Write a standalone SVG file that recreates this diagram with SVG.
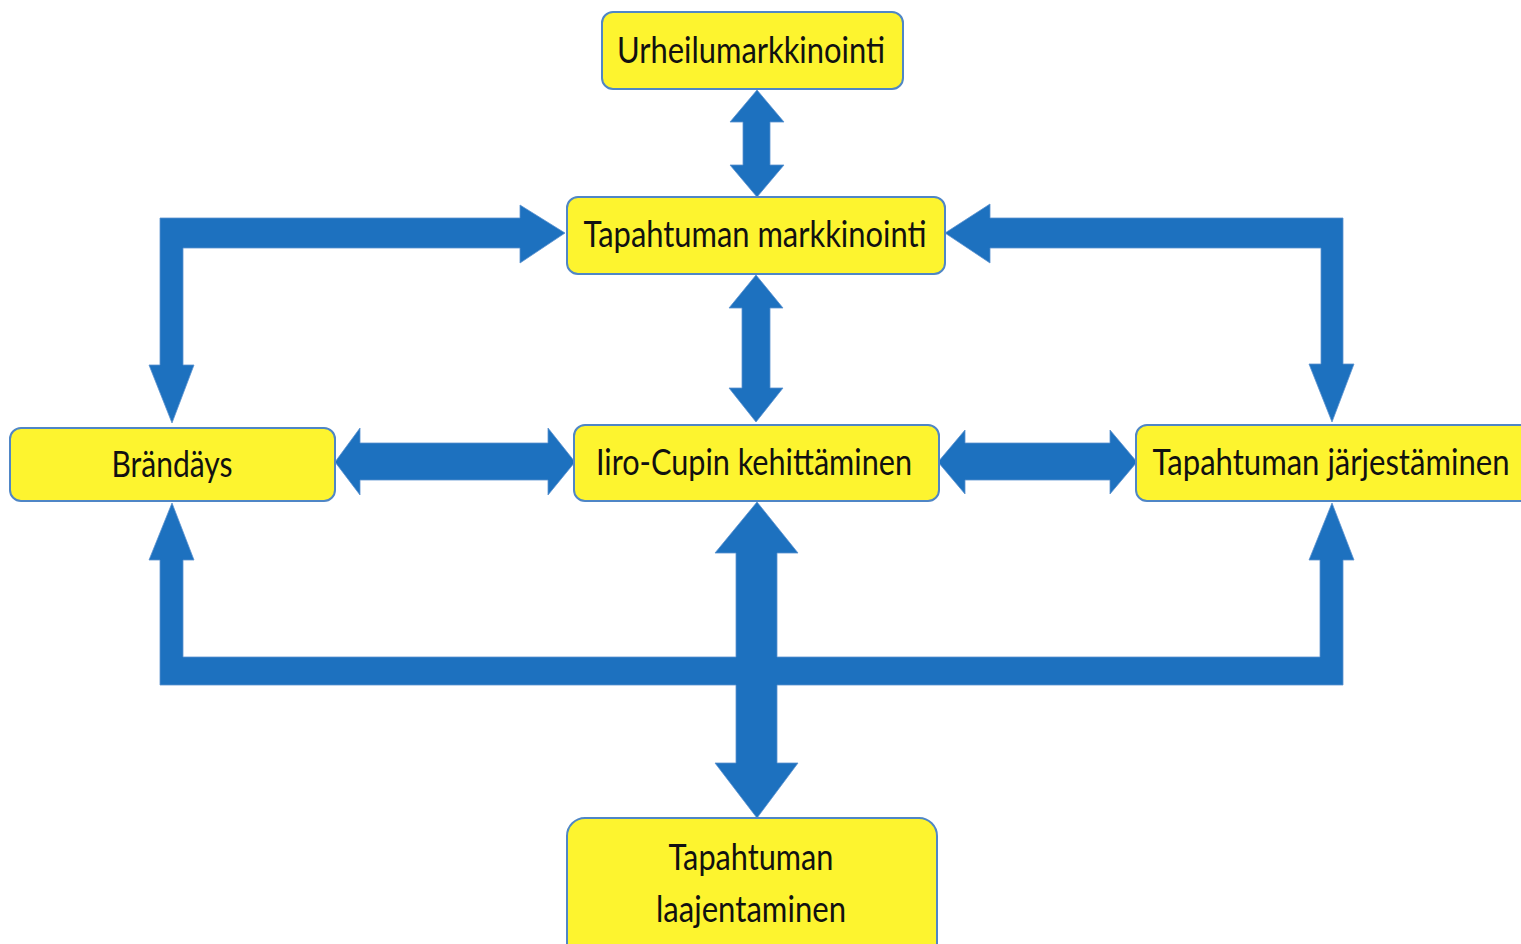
<svg xmlns="http://www.w3.org/2000/svg" width="1521" height="944" viewBox="0 0 1521 944">
<style>
.box{fill:#FDF42F;stroke:#4F86C6;stroke-width:2}
.arr{fill:#1D71BF;stroke:#5A92CF;stroke-width:0.8}
.lbl{font-family:Lato,"Open Sans","DejaVu Sans",sans-serif;font-size:36px;fill:#111;text-anchor:middle}
</style>
<rect width="1521" height="944" fill="#fff"/>
<g id="connectors">
<polygon class="arr" points="757,90 784,122 770,122 770,165 784,165 757,197 730,165 743,165 743,122 730,122"/>
<polygon class="arr" points="756,275 783,308 770,308 770,388 783,388 756,422 729,388 742,388 742,308 729,308"/>
<polygon class="arr" points="172,423 194,365 183,365 183,248 520,248 520,263 565,233 520,205 520,218 160,218 160,365 149,365"/>
<polygon class="arr" points="945,233 990,204 990,218 1343,218 1343,364 1354,364 1332,422 1309,364 1321,364 1321,248 990,248 990,263"/>
<polygon class="arr" points="335,462 360,428 360,443 548,443 548,428 575,462 548,495 548,480 360,480 360,495"/>
<polygon class="arr" points="938,462 965,430 965,443 1110,443 1110,430 1137,462 1110,494 1110,480 965,480 965,494"/>
<path class="arr" d="M172,503 L194,560 L183,560 L183,657 L736,657 L736,553 L715,553 L757,502 L798,553 L777,553 L777,657 L1320,657 L1320,560 L1309,560 L1332,503 L1354,560 L1343,560 L1343,685 L777,685 L777,763 L798,763 L757,818 L715,763 L736,763 L736,685 L160,685 L160,560 L149,560 Z"/>
</g>
<g id="n-urheilu">
<rect class="box" x="602" y="12" width="301" height="77" rx="11"/>
<text class="lbl" x="751" y="63" textLength="268" lengthAdjust="spacingAndGlyphs">Urheilumarkkinointi</text>
</g>
<g id="n-markkinointi">
<rect class="box" x="567" y="197" width="378" height="77" rx="11"/>
<text class="lbl" x="755" y="247" textLength="343" lengthAdjust="spacingAndGlyphs">Tapahtuman markkinointi</text>
</g>
<g id="n-brandays">
<rect class="box" x="10" y="428" width="325" height="73" rx="11"/>
<text class="lbl" x="172" y="477" textLength="121" lengthAdjust="spacingAndGlyphs">Brändäys</text>
</g>
<g id="n-iiro">
<rect class="box" x="574" y="425" width="365" height="76" rx="11"/>
<text class="lbl" x="754" y="475" textLength="316" lengthAdjust="spacingAndGlyphs">Iiro-Cupin kehittäminen</text>
</g>
<g id="n-jarjestaminen">
<rect class="box" x="1136" y="425" width="400" height="76" rx="11"/>
<text class="lbl" x="1331" y="475" textLength="357" lengthAdjust="spacingAndGlyphs">Tapahtuman järjestäminen</text>
</g>
<g id="n-laajentaminen">
<rect class="box" x="567" y="818" width="370" height="150" rx="18"/>
<text class="lbl" x="751" y="870" textLength="165" lengthAdjust="spacingAndGlyphs">Tapahtuman</text>
<text class="lbl" x="751" y="922" textLength="190" lengthAdjust="spacingAndGlyphs">laajentaminen</text>
</g>
</svg>
